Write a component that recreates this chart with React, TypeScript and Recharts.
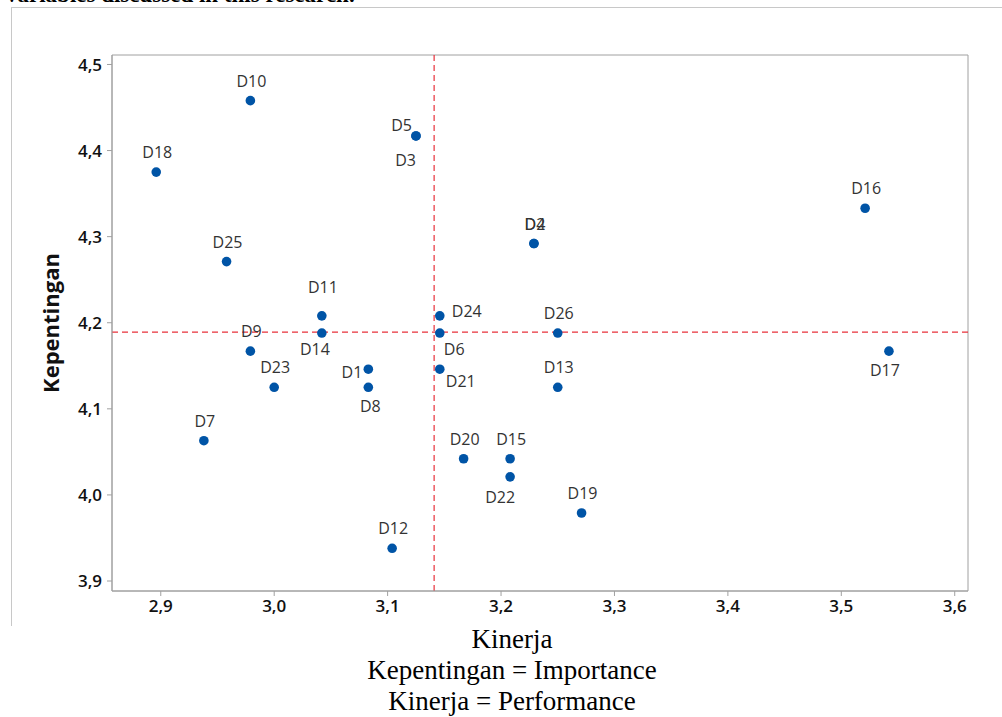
import React from 'react';
import { ScatterChart, Scatter, XAxis, YAxis, ReferenceLine, ReferenceArea } from 'recharts';

const names = ['D1', 'D2', 'D3', 'D4', 'D5', 'D6', 'D7', 'D8', 'D9', 'D10', 'D11', 'D12', 'D13',
  'D14', 'D15', 'D16', 'D17', 'D18', 'D19', 'D20', 'D21', 'D22', 'D23', 'D24', 'D25', 'D26'];
const kinerja = [3.083, 3.229, 3.125, 3.229, 3.125, 3.146, 2.938, 3.083, 2.979, 2.979, 3.042, 3.104, 3.25,
  3.042, 3.208, 3.521, 3.542, 2.896, 3.271, 3.167, 3.146, 3.208, 3.0, 3.146, 2.958, 3.25];
const kepentingan = [4.146, 4.292, 4.417, 4.292, 4.417, 4.188, 4.063, 4.125, 4.167, 4.458, 4.208, 3.938, 4.125,
  4.188, 4.042, 4.333, 4.167, 4.375, 3.979, 4.042, 4.146, 4.021, 4.125, 4.208, 4.271, 4.188];

const xTicks = [2.9, 3.0, 3.1, 3.2, 3.3, 3.4, 3.5, 3.6];
const yTicks = [3.9, 4.0, 4.1, 4.2, 4.3, 4.4, 4.5];
const meanKinerja = 3.141;
const meanKepentingan = 4.189;

const xDomain: [number, number] = [2.857, 3.6117];
const yDomain: [number, number] = [3.8884, 4.511];

// where each point's label sits relative to the dot: dx, dy, anchor
const labelPos: Record<string, [number, number, string]> = {
  D1: [-6, 3, 'end'],
  D3: [0, 24, 'end'],
  D5: [-4, -11, 'end'],
  D6: [4, 16, 'start'],
  D8: [2, 19, 'middle'],
  D11: [1, -29, 'middle'],
  D14: [-7, 16, 'middle'],
  D17: [-4, 19, 'middle'],
  D21: [6, 12, 'start'],
  D22: [-10, 20, 'middle'],
  D24: [12, -5, 'start'],
};

const points = names.map((name, i) => ({ name, x: kinerja[i], y: kepentingan[i] }));

const comma = (v: number) => v.toFixed(1).replace('.', ',');

const tickStyle = { fontSize: 17, fontWeight: 600, fill: '#111', fontFamily: 'Open Sans' };

const Dot = (props: any) => {
  const { cx, cy, payload } = props;
  const [dx, dy, anchor] = labelPos[payload.name] || [1, -20, 'middle'];
  return (
    <g>
      <circle cx={cx} cy={cy} r={4.8} fill="#0054a6" />
      <text x={cx + dx} y={cy + dy} textAnchor={anchor as any} dominantBaseline="central"
        fontSize={16} fill="#333" fontFamily="Open Sans">{payload.name}</text>
    </g>
  );
};

export default function App() {
  return (
    <div style={{ position: 'absolute', left: 0, top: 0, width: 1002, height: 717, background: '#fff', overflow: 'hidden' }}>
      <div style={{ position: 'absolute', left: 0, top: 0, height: 4, width: 400, overflow: 'hidden' }}>
        <div style={{ position: 'absolute', left: 6, top: -18, whiteSpace: 'nowrap', fontFamily: 'Liberation Serif', fontSize: 23, fontWeight: 'bold', color: '#000' }}>
          variables discussed in this research.
        </div>
      </div>
      <div style={{ position: 'absolute', left: 11, top: 7, width: 991, height: 618, borderLeft: '1px solid #c8c8c8', borderTop: '1px solid #c8c8c8' }} />
      <div style={{ position: 'absolute', left: 0, top: 0 }}>
        <ScatterChart width={1002} height={640} margin={{ top: 55, right: 34, bottom: 19, left: 0 }}>
          <XAxis type="number" dataKey="x" domain={xDomain} ticks={xTicks} tickFormatter={comma}
            allowDataOverflow height={30} tickSize={5} tickMargin={4} tick={tickStyle}
            axisLine={{ stroke: '#a0a0a0' }} tickLine={{ stroke: '#a0a0a0' }} />
          <YAxis type="number" dataKey="y" domain={yDomain} ticks={yTicks} tickFormatter={comma}
            allowDataOverflow width={112} tickSize={5} tickMargin={5} tick={tickStyle}
            axisLine={{ stroke: '#a0a0a0' }} tickLine={{ stroke: '#a0a0a0' }} />
          <ReferenceArea x1={xDomain[0]} x2={xDomain[1]} y1={yDomain[0]} y2={yDomain[1]}
            fill="none" stroke="#a0a0a0" strokeWidth={1} />
          <ReferenceLine x={meanKinerja} stroke="#e8303a" strokeDasharray="6 4" strokeWidth={1.2} />
          <ReferenceLine y={meanKepentingan} stroke="#e8303a" strokeDasharray="6 4" strokeWidth={1.2} />
          <Scatter data={points} shape={Dot} isAnimationActive={false} />
        </ScatterChart>
      </div>
      <div style={{ position: 'absolute', left: 50, top: 323, transform: 'translate(-50%, -50%) rotate(-90deg)', fontFamily: 'Open Sans', fontWeight: 'bold', fontSize: 22, color: '#111', whiteSpace: 'nowrap' }}>
        Kepentingan
      </div>
      <div style={{ position: 'absolute', left: 262, top: 624, width: 500, textAlign: 'center', fontFamily: 'Liberation Serif', fontSize: 27, lineHeight: '31px', color: '#000' }}>
        <div>Kinerja</div>
        <div>Kepentingan = Importance</div>
        <div>Kinerja = Performance</div>
      </div>
    </div>
  );
}
